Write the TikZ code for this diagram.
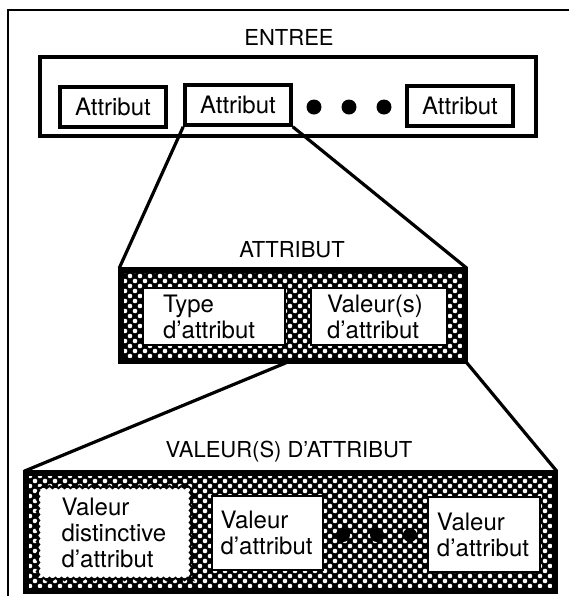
\documentclass[tikz,border=0pt]{standalone}
\usepackage{fontspec}
\setmainfont{TeX Gyre Heros}
\usetikzlibrary{patterns,decorations.pathmorphing}

\pgfdeclarepatternformonly{screendots}{\pgfqpoint{-1.5pt}{-1.5pt}}{\pgfqpoint{6.5pt}{6.5pt}}{\pgfqpoint{5pt}{5pt}}%
{\pgfpathcircle{\pgfqpoint{0pt}{0pt}}{1.15pt}\pgfpathcircle{\pgfqpoint{2.5pt}{2.5pt}}{1.15pt}\pgfusepath{fill}}

\begin{document}
\begin{tikzpicture}
[x=0.5pt, y=-0.5pt, line width=1.8pt, font=\fontsize{12}{13}\selectfont,
frame/.style={line width=1pt},
title/.style={font=\fontsize{11}{13}\selectfont},
plainbox/.style={rectangle, draw, inner sep=0pt},
attrbox/.style={rectangle, draw, inner sep=0pt, minimum width=53pt, minimum height=20pt},
bigdot/.style={circle, fill=black, inner sep=0pt, minimum size=7.5pt},
hatchbox/.style={rectangle, inner sep=0pt, fill=black, postaction={pattern=screendots, pattern color=white}, postaction={draw=black, line width=3pt}},
cell/.style={rectangle, draw, fill=white, line width=1pt, inner sep=0pt, align=left},
jagged/.style={draw, line width=1pt, decorate, decoration={zigzag, segment length=3pt, amplitude=0.6pt}},
link/.style={line width=1.6pt}]

\useasboundingbox (0,0) rectangle (569,596);

% cadre
\draw[frame] (8,596) -- (8,10) -- (569,10);

% entree
\node[title] (entree) at (289,37) {ENTREE};
\node[plainbox, minimum width=248pt, minimum height=39.5pt] (entreebox) at (288,96.5) {};
\node[attrbox] (attr0) at (113,107) {Attribut};
\node[attrbox] (attr1) at (238,105) {Attribut};
\node[attrbox] (attr2) at (460,106) {Attribut};
\node[bigdot] (dot0) at (314,107) {};
\node[bigdot] (dot1) at (349,107) {};
\node[bigdot] (dot2) at (384,107) {};

% attribut
\node[title] (attribut) at (292,250) {ATTRIBUT};
\node[hatchbox, minimum width=172pt, minimum height=45.5pt] (attrhatch) at (293,315.5) {};
\node[cell, minimum width=71pt, minimum height=28.5pt, text width=51pt] (type) at (214,316.5) {Type\\d'attribut};
\node[cell, minimum width=68pt, minimum height=28.5pt, text width=52pt] (valeurs) at (379,316.5) {Valeur(s)\\d'attribut};

\draw[link] (attr1.south west) -- (attrhatch.north west);
\draw[link] (attr1.south east) -- (attrhatch.north east);

% valeur(s) d'attribut
\node[title] (valeurattr) at (289,452) {VALEUR(S) D'ATTRIBUT};
\node[hatchbox, minimum width=264.5pt, minimum height=59pt] (valhatch) at (290.5,532) {};
\node[cell, draw=none, minimum width=75.5pt, minimum height=45pt, text width=53pt] (distinct) at (114.5,533) {Valeur\\distinctive\\d'attribut};
\draw[jagged] (distinct.south west) rectangle (distinct.north east);
\node[cell, minimum width=55.5pt, minimum height=37pt, text width=47pt] (valeur0) at (267.5,533) {Valeur\\d'attribut};
\node[bigdot, minimum size=7pt] (dot3) at (343,535) {};
\node[bigdot, minimum size=7pt] (dot4) at (377,535) {};
\node[bigdot, minimum size=7pt] (dot5) at (410,535) {};
\node[cell, minimum width=56pt, minimum height=37.5pt, text width=47pt] (valeur1) at (484,534.5) {Valeur\\d'attribut};

\draw[link] (type.east |- attrhatch.south) -- (valhatch.north west);
\draw[link] (attrhatch.south east) -- (valhatch.north east);
\end{tikzpicture}
\end{document}
